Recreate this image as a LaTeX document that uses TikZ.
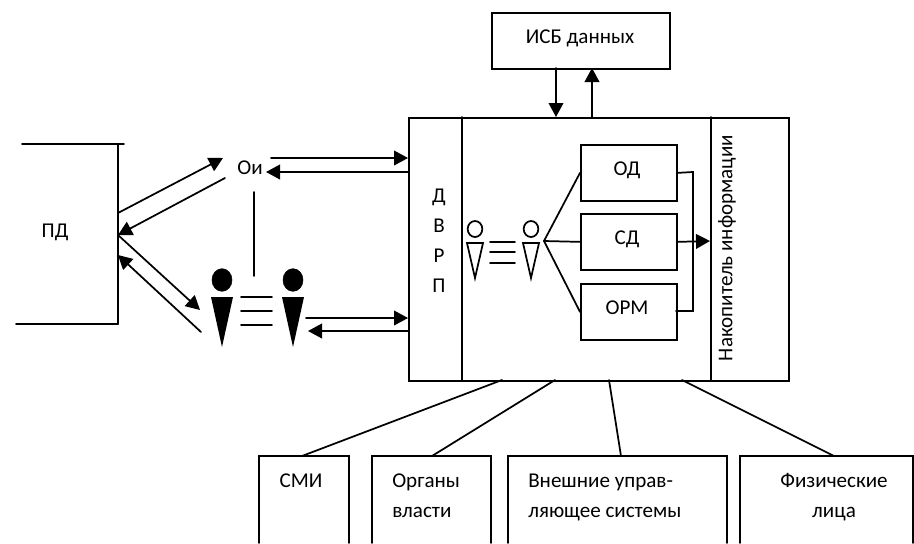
\documentclass[tikz,border=0pt]{standalone}
\usepackage{fontspec}
\setmainfont{Carlito}
\usetikzlibrary{arrows.meta,shapes.geometric}
\tikzset{
  every node/.style={font=\fontsize{15.8pt}{18pt}\selectfont,inner sep=0pt},
  ln/.style={line width=1.3pt,line cap=round},
  arr/.style={ln,-{Triangle[length=10.5pt,width=11pt]}},
  boxn/.style={draw,line width=1.3pt,minimum width=#1,anchor=north west,minimum height=42pt},
  txt/.style={anchor=base},
  txtl/.style={anchor=base west},
  headb/.style={fill=black,draw=black},
  headw/.style={draw=black,line width=1.3pt,fill=white},
}
\begin{document}
\begin{tikzpicture}[x=0.75pt,y=-0.75pt]
\useasboundingbox (0,0) rectangle (914,543);
% big block
\node[draw,line width=1.3pt,anchor=north west,minimum width=285pt,minimum height=197.25pt] (main) at (408,117) {};
\draw[ln] (462,117) -- (462,380);
\draw[ln] (711,117) -- (711,380);
% database
\node[boxn=133.5pt] (isb) at (491,12) {};
\node[txt] (isbt) at (580,43) {ИСБ данных};
\coordinate (i1) at (556,68); \coordinate (m1) at (556,117);
\coordinate (i2) at (592,68); \coordinate (m2) at (592,117);
\draw[arr] (i1) -- (m1);
\draw[arr] (m2) -- (i2);
% inner boxes
\node[boxn=72pt] (od) at (580,144) {};
\node[boxn=72pt] (sd) at (580,213) {};
\node[boxn=72pt] (orm) at (580,283) {};
\node[txt] (odt) at (627,175) {ОД};
\node[txt] (sdt) at (627,244) {СД};
\node[txt] (ormt) at (627,314) {ОРМ};
\coordinate (fan) at (544,241);
\draw[ln] (fan) -- (od.west);
\draw[ln] (fan) -- (sd.west);
\draw[ln] (fan) -- (orm.west);
\coordinate (acc) at (710,241);
\coordinate (bus) at (693,172);
\draw[ln] (od.east) -- (bus) -- (693,311) -- (676,311);
\draw[arr] (sd.east) -- (acc);
% texts in main
\node[txt] (d1) at (439,202) {Д};
\node[txt] (d2) at (439,232) {В};
\node[txt] (d3) at (439,262) {Р};
\node[txt] (d4) at (439,292) {П};
\node[anchor=center,rotate=90] (nak) at (727,248) {Накопитель информации};
% white figures
\foreach \n/\x in {a/475,b/531}{
  \node[headw,ellipse,minimum width=11pt,minimum height=12pt] (w\n) at (\x,229) {};
  \draw[headw,line join=miter] (\x-8,243) -- (\x+8,243) -- (\x,278) -- cycle;
}
\draw[ln] (490,242) -- (515,242);
\draw[ln] (490,252) -- (515,252);
\draw[ln] (490,263) -- (515,263);
% PD
\draw[ln] (22,144) -- (124,144);
\draw[ln] (118,144) -- (118,324);
\draw[ln] (16,324) -- (118,324);
\node[txt] (pd) at (55,237) {ПД};
% Oi
\node[txt] (oi) at (250,174) {Ои};
\coordinate (p1) at (118,213); \coordinate (o1) at (223,158);
\coordinate (o2) at (225,178); \coordinate (p2) at (118,235);
\coordinate (f1) at (200,310);
\coordinate (f2) at (201,332); \coordinate (p3) at (118,255);
\draw[arr] (p1) -- (o1);
\draw[arr] (o2) -- (p2);
\draw[arr] (p2) -- (f1);
\draw[arr] (f2) -- (p3);
\coordinate (ma) at (408,158); \coordinate (ob) at (271,158);
\coordinate (mb) at (408,172); \coordinate (oc) at (266,172);
\draw[arr] (ob) -- (ma);
\draw[arr] (mb) -- (oc);
\coordinate (vt) at (254,192); \coordinate (vb) at (254,276);
\draw[ln] (vt) -- (vb);
% black figures
\foreach \n/\x in {a/222,b/293}{
  \node[headb,ellipse,minimum width=15pt,minimum height=17pt] (k\n) at (\x,280) {};
  \fill (\x-11,297) -- (\x+11,297) -- (\x,347) -- cycle;
}
\draw[ln] (241,297) -- (272,297);
\draw[ln] (241,311) -- (272,311);
\draw[ln] (241,325) -- (272,325);
\coordinate (mc) at (408,318); \coordinate (kc) at (306,318);
\coordinate (md) at (408,331); \coordinate (kd) at (308,331);
\draw[arr] (kc) -- (mc);
\draw[arr] (md) -- (kd);
% bottom
\coordinate (t1) at (302,456); \coordinate (m3) at (502,380);
\coordinate (t2) at (432,456); \coordinate (m4) at (555,380);
\coordinate (t3) at (621,456); \coordinate (m5) at (609,380);
\coordinate (t4) at (834,456); \coordinate (m6) at (682,380);
\draw[ln] (m3) -- (t1);
\draw[ln] (m4) -- (t2);
\draw[ln] (m5) -- (t3);
\draw[ln] (m6) -- (t4);
\draw[ln] (259,543) -- (259,456) -- (349,456) -- (349,543);
\draw[ln] (372,543) -- (372,456) -- (491,456) -- (491,543);
\draw[ln] (508,543) -- (508,456) -- (727,456) -- (727,543);
\draw[ln] (740,543) -- (740,456) -- (913,456) -- (913,543);
\node[txt] (s1) at (301,487) {СМИ};
\node[txtl] (s2) at (392,487) {Органы};
\node[txtl] (s3) at (392,517) {власти};
\node[txtl] (s4) at (528,487) {Внешние управ-};
\node[txtl] (s5) at (528,517) {ляющее системы};
\node[txt] (s6) at (834,487) {Физические};
\node[txt] (s7) at (834,517) {лица};
\end{tikzpicture}
\end{document}
